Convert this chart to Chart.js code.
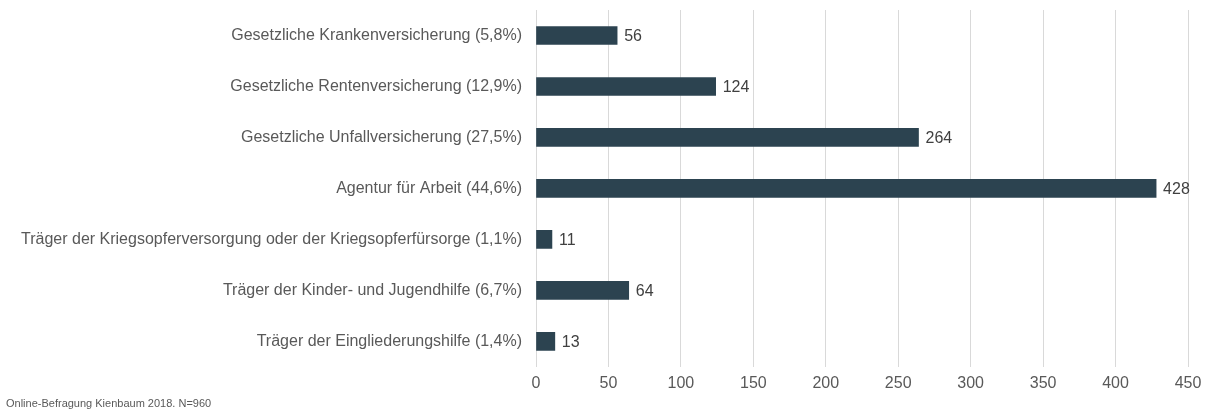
<!DOCTYPE html>
<html>
<head>
<meta charset="utf-8">
<script src="https://cdn.jsdelivr.net/npm/chart.js@4/dist/chart.umd.min.js"></script>
<style>
  html, body { margin: 0; padding: 0; background: #fff; }
  #wrap { width: 1210px; height: 414px; position: relative; }
</style>
</head>
<body>
<div id="wrap"><canvas id="traeger-chart" width="1210" height="414"></canvas></div>
<script>
// Kostenträger, Anzahl Nennungen
var categories = [
  'Gesetzliche Krankenversicherung (5,8%)',
  'Gesetzliche Rentenversicherung (12,9%)',
  'Gesetzliche Unfallversicherung (27,5%)',
  'Agentur für Arbeit (44,6%)',
  'Träger der Kriegsopferversorgung oder der Kriegsopferfürsorge (1,1%)',
  'Träger der Kinder- und Jugendhilfe (6,7%)',
  'Träger der Eingliederungshilfe (1,4%)'
];
var counts = [56, 124, 264, 428, 11, 64, 13];
var xTicks = [0, 50, 100, 150, 200, 250, 300, 350, 400, 450];
var source = 'Online-Befragung Kienbaum 2018. N=960';

var barColor = '#2c4350';
var textColor = '#595959';
var fontFamily = '"Liberation Sans", Arial, sans-serif';

// Zahlen rechts neben den Balken
var valueLabels = {
  id: 'valueLabels',
  afterDatasetsDraw(chart) {
    var ctx = chart.ctx;
    var meta = chart.getDatasetMeta(0);
    ctx.save();
    ctx.font = '16px ' + fontFamily;
    ctx.fillStyle = '#404040';
    ctx.textBaseline = 'middle';
    ctx.textAlign = 'left';
    meta.data.forEach(function (bar, i) {
      ctx.fillText(String(counts[i]), bar.x + 7, bar.y + 1);
    });
    ctx.restore();
  }
};

new Chart('traeger-chart', {
  type: 'bar',
  data: {
    labels: categories,
    datasets: [{
      data: counts,
      backgroundColor: barColor,
      borderWidth: 0,
      barThickness: 18
    }]
  },
  options: {
    indexAxis: 'y',
    responsive: false,
    animation: false,
    layout: { padding: { top: 10, right: 22, left: 6, bottom: 0 } },
    plugins: {
      legend: { display: false },
      tooltip: { enabled: false },
      title: {
        display: true,
        text: source,
        position: 'bottom',
        align: 'start',
        color: textColor,
        font: { family: fontFamily, size: 11, weight: 'normal' },
        padding: { top: 0, bottom: 3 }
      }
    },
    scales: {
      x: {
        min: 0,
        max: 450,
        afterBuildTicks(scale) {
          scale.ticks = xTicks.map(function (v) { return { value: v }; });
        },
        afterFit(scale) { scale.height = 31; },
        grid: { color: '#d9d9d9', drawTicks: false },
        border: { display: false },
        ticks: {
          color: textColor,
          padding: 7,
          font: { family: fontFamily, size: 16 }
        }
      },
      y: {
        grid: { display: false, drawTicks: false },
        border: { display: false },
        afterFit(scale) {
          scale.width = 530;
          scale.paddingTop = 0;
          scale.paddingBottom = 0;
        },
        ticks: {
          color: textColor,
          padding: 14,
          font: { family: fontFamily, size: 16 }
        }
      }
    }
  },
  plugins: [valueLabels]
});
</script>
</body>
</html>
